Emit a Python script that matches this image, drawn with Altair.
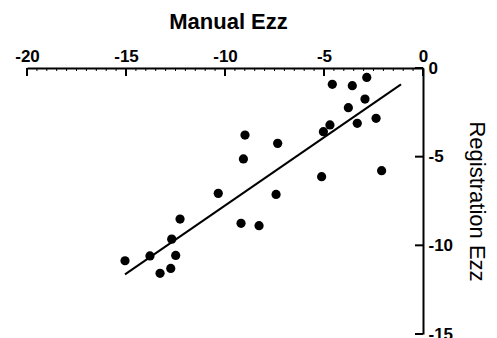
import altair as alt
import pandas as pd

# Scatter data
manual_ezz = [-15.05, -13.79, -13.28, -12.74, -12.49, -12.69, -12.27, -10.34,
              -9.19, -8.28, -8.99, -9.07, -7.34, -7.42, -5.12, -5.03, -4.70,
              -4.58, -3.57, -2.84, -2.93, -3.77, -3.32, -2.37, -2.09]
registration_ezz = [-10.87, -10.60, -11.58, -11.30, -10.57, -9.65, -8.52, -7.07,
                    -8.76, -8.89, -3.78, -5.13, -4.25, -7.13, -6.13, -3.59, -3.21,
                    -0.92, -1.00, -0.53, -1.75, -2.24, -3.12, -2.84, -5.79]

# Fitted line end points
fit_x = [-15.05, -1.11]
fit_y = [-11.64, -0.92]

# Axis ticks
x_major = [-20, -15, -10, -5, 0]
x_minor = [v / 2 for v in range(-40, 1) if v % 10 != 0]
y_major = [0, -5, -10, -15]

W, H = 396, 266
FONT = "Liberation Sans"

pts = pd.DataFrame({"x": manual_ezz, "y": registration_ezz})
fit = pd.DataFrame({"x": fit_x, "y": fit_y})
xmaj = pd.DataFrame({"x": x_major})
xmin = pd.DataFrame({"x": x_minor})
ymaj = pd.DataFrame({"y": y_major})

x_scale = alt.Scale(domain=[-20, 0], nice=False, zero=False)
y_scale = alt.Scale(domain=[-15, 0], nice=False, zero=False)

x_axis = alt.Axis(
    orient="top", values=x_major, title="Manual Ezz",
    labelExpr="'' + datum.value",
    ticks=False, labelPadding=3, grid=False,
    domainColor="black", domainWidth=2,
    labelFont=FONT, labelFontSize=17, labelFontWeight="bold", labelColor="black",
    labelAngle=0, labelOverlap=False, labelFlush=False,
    titleFont=FONT, titleFontSize=22, titleFontWeight="bold", titleColor="black",
    titleX=201, titleY=-40, titleBaseline="alphabetic", titleAlign="center",
)

y_axis = alt.Axis(
    orient="right", values=y_major, title="Registration Ezz",
    labelExpr="'' + datum.value",
    ticks=False, labelPadding=5, grid=False,
    domainColor="black", domainWidth=2,
    labelFont=FONT, labelFontSize=17, labelFontWeight="bold", labelColor="black",
    labelOverlap=False, labelFlush=False, labelBaseline="middle",
    titleFont=FONT, titleFontSize=22, titleFontWeight="normal", titleColor="black",
    titleAngle=90, titleX=53, titleY=133, titleAlign="center", titleBaseline="middle",
)

points = alt.Chart(pts).mark_circle(size=85, color="black", opacity=1).encode(
    x=alt.X("x:Q", scale=x_scale, axis=x_axis),
    y=alt.Y("y:Q", scale=y_scale, axis=y_axis),
)

line = alt.Chart(fit).mark_line(color="black", strokeWidth=2).encode(
    x=alt.X("x:Q", scale=x_scale),
    y=alt.Y("y:Q", scale=y_scale),
)

xmajor_ticks = alt.Chart(xmaj).mark_rule(color="black", strokeWidth=2).encode(
    x=alt.X("x:Q", scale=x_scale), y=alt.value(0), y2=alt.value(8),
)
xminor_ticks = alt.Chart(xmin).mark_rule(color="black", strokeWidth=1).encode(
    x=alt.X("x:Q", scale=x_scale), y=alt.value(0), y2=alt.value(3),
)
ymajor_ticks = alt.Chart(ymaj).mark_rule(color="black", strokeWidth=2).encode(
    y=alt.Y("y:Q", scale=y_scale), x=alt.value(W - 8), x2=alt.value(W),
)

chart = alt.layer(points, line, xmajor_ticks, xminor_ticks, ymajor_ticks).properties(
    width=W, height=H,
    autosize=alt.AutoSizeParams(type="none"),
    padding={"left": 27, "top": 68, "right": 74, "bottom": 4},
    background="white",
).configure_view(stroke=None)

chart.save("out.html", embed_options={"renderer": "svg", "actions": False})
